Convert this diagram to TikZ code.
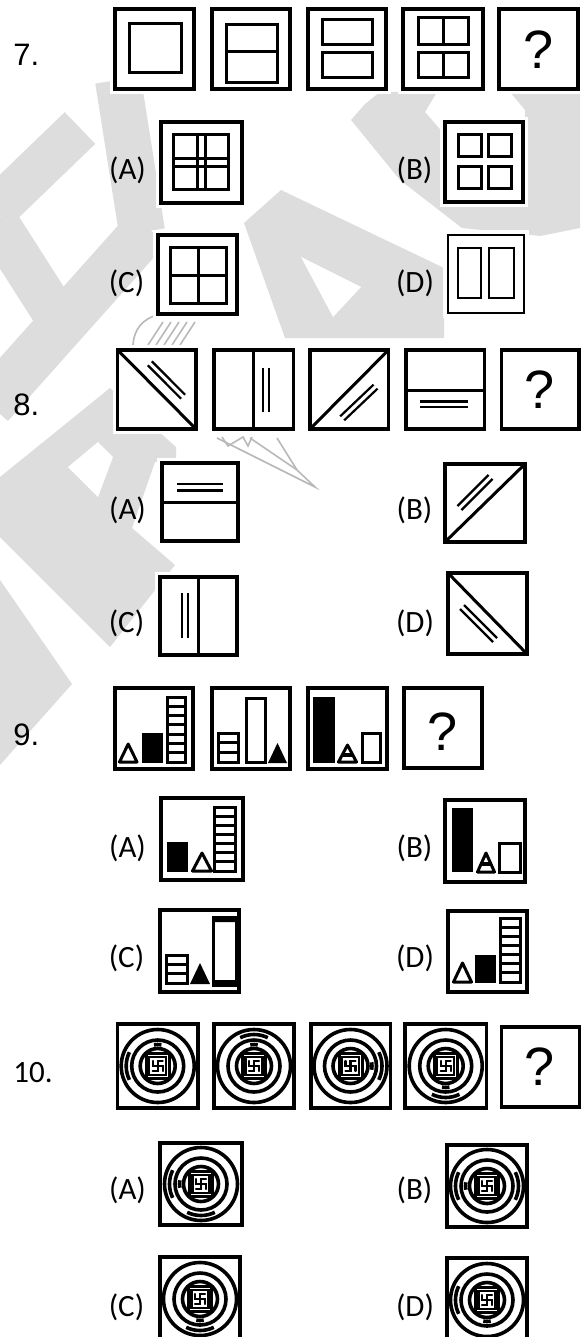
\documentclass[tikz,border=0pt]{standalone}
\usepackage{fontspec}
\setmainfont{Carlito}
\newfontfamily\arialfont{Liberation Sans}
\usetikzlibrary{positioning}
\definecolor{wmgray}{RGB}{221,221,221}
\definecolor{chutegray}{RGB}{185,185,185}
\tikzset{
  frame/.style={draw=black, line width=1.8pt, fill=white},
  part/.style={draw=black, line width=1.5pt},
  slim/.style={draw=black, line width=1.1pt},
  ring/.style={draw=black, line width=1.8pt},
  wm/.style={fill=wmgray},
  wmband/.style={draw=wmgray, line cap=butt},
  chute/.style={draw=chutegray, line width=0.8pt},
  num/.style={font=\arialfont\fontsize{15.5}{18}\selectfont, inner sep=0pt, anchor=west},
  optlabel/.style={font=\fontsize{15.5}{18}\selectfont, inner sep=0pt},
  qmark/.style={font=\arialfont\fontsize{27}{32}\selectfont, inner sep=0pt},
}
% a figure frame on its white patch
\newcommand\figframe[4]{%
  \fill[white] ({#1-5},{#2-5}) rectangle ({#3+5},{#4+5});
  \draw[frame] (#1,#2) rectangle (#3,#4);}
% a ladder: x1, y1, x2, y2, number of rungs
\newcommand\ladderbar[5]{%
  \draw[part] (#1,#2) rectangle (#3,#4);
  \foreach \k in {1,...,#5}
    \draw[part] (#1,{#2+\k*(#4-#2)/(#5+1)}) -- (#3,{#2+\k*(#4-#2)/(#5+1)});}
% the target figure: centre x, centre y, cap angles, mark angles
\newcommand\targetfig[4]{%
  \begin{scope}[shift={(#1,#2)}]
    \draw[ring] (0,0) circle (36.5);
    \draw[ring] (0,0) circle (26);
    \draw[ring] (0,0) circle (17.5);
    \draw[part] (-11.5,-12.5) rectangle (11.5,12.5);
    \draw[slim] (-8.5,-9) rectangle (8.5,9);
    \draw[slim, line cap=round] (0,0) -- (0,-5) -- (5,-5) (0,0) -- (5,0) -- (5,5)
      (0,0) -- (0,5) -- (-5,5) (0,0) -- (-5,0) -- (-5,-5);
    \foreach \a in {#3}
      \draw[ring] ({\a-26}:31.5) arc[start angle=\a-26, end angle=\a+26, radius=31.5];
    \foreach \a in {#4}
      \draw[ring, line width=1.8pt] ({\a-10}:21.5) arc[start angle=\a-10, end angle=\a+10, radius=21.5];
  \end{scope}}

\begin{document}
\begin{tikzpicture}[x=0.5pt, y=-0.5pt]
\useasboundingbox (0,0) rectangle (580,1337);
\fill[white] (0,0) rectangle (580,1337);

% watermark
\draw[wmband, line width=23pt] (118,80) -- (142,232);
\draw[wmband, line width=22pt] (-5,210) -- (80,128);
\draw[wmband, line width=22pt] (-5,220) -- (62,325);
\draw[wmband, line width=24pt] (148,228) -- (-10,405);
\fill[wm] (281,190) -- (444,268) -- (444,338) -- (285,338) -- (244,223) -- cycle;
\fill[white] (301,257) -- (361,287) -- (333,317) -- cycle;
\fill[wm] (365,104) -- (380,92) -- (437,92) -- (425,112) -- (445,135) -- (445,205)
  -- (525,205) -- (525,110) -- (510,92) -- (580,92) -- (580,228) -- (540,236)
  -- (462,228) -- (400,180) -- (351,120) -- cycle;
\fill[wm] (0,477) -- (110,388) -- (176,447) -- (176,460) -- (155,462) -- (132,528)
  -- (175,565) -- (110,647) -- (0,537) -- cycle;
\fill[white] (68,467) -- (98,442) -- (113,457) -- (98,497) -- cycle;
\fill[wm] (0,580) -- (72,684) -- (0,765) -- cycle;
% parachute
\draw[chute] (133,345) .. controls (135,312) and (170,306) .. (216,318);
\foreach \d in {0,8,16,24,32}
  \draw[chute] ({148+\d},345) -- ({163+\d},322);
\draw[chute] (217,438) -- (315,487) -- (297,470) -- (250,438);
\draw[chute] (277,438) -- (297,470);
\draw[chute] (222,437) -- (228,446) -- (243,437) -- (248,446) -- (252,437);

% question 7
\node[num] (n7) at (13,55) {7.};
\figframe{115}{9}{194}{89}
\draw[part] (129.5,24) rectangle (181,73);
\figframe{212}{9}{290}{89}
\draw[part] (226,25) rectangle (277.5,83) (226,52) -- (277.5,52);
\figframe{308}{9}{386}{89}
\draw[part] (322,20) rectangle (372,45) (322,53) rectangle (372,78);
\figframe{403}{9}{483}{89}
\draw[part] (418,18) rectangle (468,45) (418,53) rectangle (468,78)
  (443,18) -- (443,45) (443,53) -- (443,78);
\figframe{499}{9}{578}{89}
\node[qmark] (q7) at (538.5,50) {?};

\node[optlabel] (o7a) at (127.5,170) {(A)};
\figframe{161}{122}{242}{203}
\draw[part] (173,135) rectangle (228,190) (197,135) -- (197,190) (205,135) -- (205,190)
  (173,159) -- (228,159) (173,167) -- (228,167);
\node[optlabel] (o7b) at (414.5,170) {(B)};
\figframe{445}{122}{523}{202}
\foreach \x in {458,488}
  \foreach \y in {135,167}
    \draw[part] (\x,\y) rectangle ++(23,21.5);
\node[optlabel] (o7c) at (126.5,283) {(C)};
\figframe{158}{235}{237}{314}
\draw[part] (170,247) rectangle (226,303) (198,247) -- (198,303) (170,275) -- (226,275);
\node[optlabel] (o7d) at (415,283) {(D)};
\fill[white] (443,230) rectangle (529,318);
\draw[slim, line width=1.2pt] (448,235) rectangle (524,313);
\draw[slim] (458,248) rectangle (481,298) (489,248) rectangle (514,298);

% question 8
\node[num] (n8) at (13,405) {8.};
\figframe{117.6}{350}{196}{429}
\draw[part] (117.6,350) -- (196,429);
\draw[slim] (151.8,361.3) -- (185.1,394.7) (147.8,365.3) -- (181.1,398.7);
\figframe{213.8}{350}{293.4}{429}
\draw[part] (253.4,350) -- (253.4,429);
\draw[slim] (263,368) -- (263,412) (269,368) -- (269,412);
\figframe{310}{350}{388.5}{429}
\draw[part] (310,429) -- (388.5,350);
\draw[slim] (344.2,420.3) -- (377.5,388.7) (340.2,416.3) -- (373.5,384.7);
\figframe{405.8}{350}{484.6}{429}
\draw[part] (405.8,390) -- (484.6,390);
\draw[slim] (420,401.5) -- (468,401.5) (420,407) -- (468,407);
\figframe{501.3}{350}{579}{429}
\node[qmark] (q8) at (540,390) {?};

\node[optlabel] (o8a) at (127.5,510) {(A)};
\figframe{162}{463}{238}{541}
\draw[part] (162,502) -- (238,502);
\draw[slim] (177,484) -- (223,484) (177,490.5) -- (223,490.5);
\node[optlabel] (o8b) at (414.5,510) {(B)};
\figframe{445}{464}{525}{542}
\draw[part] (445,542) -- (525,464);
\draw[slim] (461.4,510.1) -- (492.6,478.9) (457.4,506.1) -- (488.6,474.9);
\node[optlabel] (o8c) at (126.5,623) {(C)};
\figframe{160}{577}{237}{655}
\draw[part] (198,577) -- (198,655);
\draw[slim] (182,593) -- (182,638) (188,593) -- (188,638);
\node[optlabel] (o8d) at (415,623) {(D)};
\figframe{448}{573}{527}{654}
\draw[part] (448,573) -- (527,654);
\draw[slim] (464,605) -- (497,638) (460,609) -- (493,642);

% question 9
\node[num] (n9) at (13,735) {9.};
\figframe{115}{688}{193}{769}
\draw[part, line join=round] (119.5,762) -- (137,762) -- (128.2,744) -- cycle;
\fill (142,733) rectangle (163,763);
\ladderbar{167}{697}{185}{762}{6}
\figframe{212}{688}{290}{769}
\ladderbar{218}{733}{238}{762}{2}
\draw[part] (246,698) rectangle (265,762);
\fill (268,763) -- (287,763) -- (277.5,743) -- cycle;
\figframe{308}{688}{387}{769}
\fill (313,697) rectangle (335,763);
\draw[part, line join=round] (338.5,762) -- (356.5,762) -- (347.5,745) -- cycle;
\draw[line width=1.8pt] (342,755) -- (353,755);
\draw[part] (362,733) rectangle (380,762);
\figframe{404}{688}{482}{768}
\node[qmark] (q9) at (443,732) {?};

\node[optlabel] (o9a) at (127.5,848) {(A)};
\figframe{161}{798}{243}{880}
\fill (167,842) rectangle (188,872);
\draw[part, line join=round] (192.5,871) -- (211.5,871) -- (202,853) -- cycle;
\ladderbar{214}{807}{235}{871}{6}
\node[optlabel] (o9b) at (414.5,848) {(B)};
\figframe{445}{800}{525}{882}
\fill (452,808) rectangle (473,872);
\draw[part, line join=round] (477.5,872) -- (494.5,872) -- (486,853) -- cycle;
\draw[line width=1.8pt] (481,864) -- (491,864);
\draw[part] (499,843) rectangle (520,872);
\node[optlabel] (o9c) at (126.5,958) {(C)};
\figframe{160}{910}{239}{992}
\ladderbar{166}{955}{187}{983}{2}
\fill (190,984) -- (210,984) -- (200,963) -- cycle;
\draw[part] (213,917) rectangle (236,985);
\fill (213,917) rectangle (236,922) (213,980) rectangle (236,985);
\node[optlabel] (o9d) at (415,958) {(D)};
\figframe{448}{911}{527}{992}
\draw[part, line join=round] (453.5,982) -- (471.5,982) -- (462.5,963) -- cycle;
\fill (475,955) rectangle (496,983);
\ladderbar{500}{918}{520}{982}{6}

% question 10
\node[optlabel, anchor=west] (n10) at (13,1073) {10.};
\figframe{117.6}{1024}{197.9}{1108}
\targetfig{157.7}{1066}{180}{270}
\figframe{213.8}{1024}{294.1}{1108}
\targetfig{254}{1066}{270}{270}
\figframe{310.8}{1024}{390.3}{1108}
\targetfig{350.5}{1066}{0}{0}
\figframe{405}{1024}{486.5}{1108}
\targetfig{445.7}{1066}{90}{90}
\figframe{501.3}{1027}{580}{1107}
\node[qmark] (q10) at (540,1067) {?};

\node[optlabel] (o10a) at (127.5,1190) {(A)};
\figframe{160}{1143}{242}{1225}
\targetfig{201}{1184}{180,90}{180}
\node[optlabel] (o10b) at (414.5,1190) {(B)};
\figframe{447}{1145}{527}{1227}
\targetfig{487}{1186}{180,0}{180}
\node[optlabel] (o10c) at (126.5,1307) {(C)};
\figframe{160}{1257}{240}{1345}
\targetfig{200}{1299}{90}{90}
\node[optlabel] (o10d) at (415,1307) {(D)};
\figframe{447}{1258}{527}{1345}
\targetfig{487}{1300}{180}{90}
\end{tikzpicture}
\end{document}
